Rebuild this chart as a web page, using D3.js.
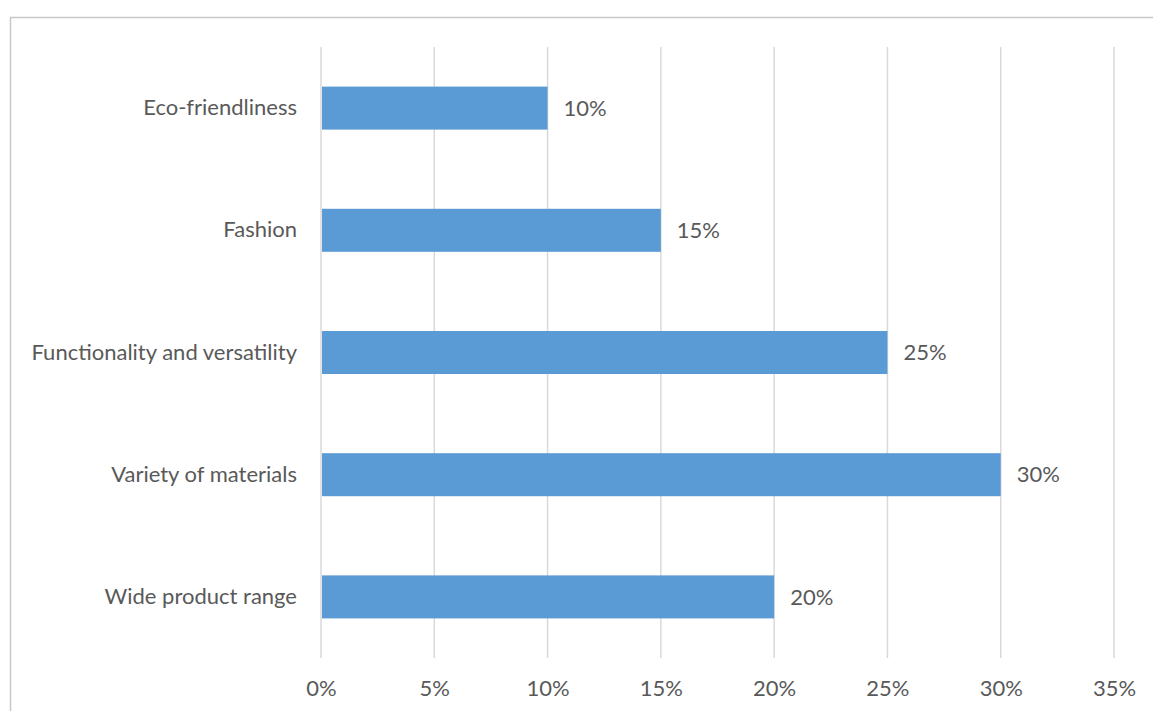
<!DOCTYPE html>
<html>
<head>
<meta charset="utf-8">
<script src="https://cdn.jsdelivr.net/npm/d3@7"></script>
<style>
  body { margin: 0; background: #fff; }
  svg text { font-family: Lato, "Open Sans", sans-serif; fill: #595959; }
</style>
</head>
<body>
<div id="chart"></div>
<script>
const categories = ["Eco-friendliness", "Fashion", "Functionality and versatility", "Variety of materials", "Wide product range"];
const values = [10, 15, 25, 30, 20];
const xTicks = [0, 5, 10, 15, 20, 25, 30, 35];

const W = 1153, H = 711;
const margin = { top: 47, right: 39, bottom: 53, left: 321 };
const width = W - margin.left - margin.right,
    height = H - margin.top - margin.bottom;
const fontSize = "22px";

const svg = d3.select("#chart")
    .append("svg")
    .attr("width", W)
    .attr("height", H);

// chart frame (top and left edges visible)
svg.append("path")
    .attr("d", `M10.5,${H} V17.5 H${W}`)
    .attr("fill", "none")
    .attr("stroke", "#c8c8c8")
    .attr("stroke-width", 1.5);

const g = svg.append("g")
    .attr("transform", `translate(${margin.left},${margin.top})`);

const x = d3.scaleLinear()
    .domain([0, 35])
    .range([0, width]);

const y = d3.scaleBand()
    .domain(categories)
    .range([0, height])
    .paddingInner(0.648)
    .paddingOuter(0.324);

// gridlines
g.selectAll(".grid")
    .data(xTicks)
    .join("line")
    .attr("class", "grid")
    .attr("x1", d => x(d))
    .attr("x2", d => x(d))
    .attr("y1", 0)
    .attr("y2", height)
    .attr("stroke", "#d9d9d9")
    .attr("stroke-width", 1.5);

const xAxis = d3.axisBottom(x)
    .tickValues(xTicks)
    .tickFormat(d => d + "%")
    .tickSize(0)
    .tickPadding(22);

g.append("g")
    .attr("transform", `translate(0,${height})`)
    .call(xAxis)
    .call(a => a.select(".domain").remove())
    .selectAll("text")
    .style("font-size", fontSize);

const yAxis = d3.axisLeft(y)
    .tickSize(0)
    .tickPadding(24);

g.append("g")
    .call(yAxis)
    .call(a => a.select(".domain").remove())
    .selectAll("text")
    .style("font-size", fontSize);

g.selectAll(".bar")
    .data(values)
    .join("rect")
    .attr("class", "bar")
    .attr("x", x(0) + 1)
    .attr("y", (d, i) => y(categories[i]))
    .attr("width", d => x(d) - x(0) - 1)
    .attr("height", y.bandwidth())
    .attr("fill", "#5b9bd5");

g.selectAll(".val")
    .data(values)
    .join("text")
    .attr("class", "val")
    .attr("x", d => x(d) + 16)
    .attr("y", (d, i) => y(categories[i]) + y.bandwidth() / 2)
    .attr("dy", "0.35em")
    .style("font-size", fontSize)
    .text(d => d + "%");
</script>
</body>
</html>
